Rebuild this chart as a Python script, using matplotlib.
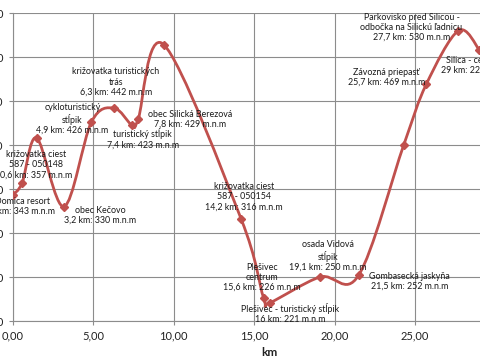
import numpy as np
import matplotlib
matplotlib.use("Agg")
from matplotlib import pyplot as plt
from matplotlib.path import Path
from matplotlib.patches import PathPatch
from matplotlib.ticker import MultipleLocator, FuncFormatter

# route profile: distance (km) and elevation (m n.m.)
km = [0.0, 0.6, 1.5, 3.2, 4.9, 6.3, 7.4, 7.8, 9.4, 14.2, 15.6, 16.0,
      19.1, 21.5, 24.3, 25.7, 27.7, 29.0]
elev = [343, 357, 408, 330, 426, 442, 423, 429, 514, 316, 226, 221,
        250, 252, 400, 469, 530, 508]

# data labels (None = point without label)
labels = [
    "Domica resort\n0 km: 343 m.n.m",
    "križovatka ciest\n587 - 050148\n0,6 km: 357 m.n.m",
    None,
    "obec Kečovo\n3,2 km: 330 m.n.m",
    "cykloturistický\nstĺpik\n4,9 km: 426 m.n.m",
    "križovatka turistických\ntrás\n6,3 km: 442 m.n.m",
    "turistický stĺpik\n7,4 km: 423 m.n.m",
    "obec Silická Berezová\n7,8 km: 429 m.n.m",
    None,
    "križovatka ciest\n587 - 050154\n14,2 km: 316 m.n.m",
    "Plešivec\ncentrum\n15,6 km: 226 m.n.m",
    "Plešivec - turistický stĺpik\n16 km: 221 m.n.m",
    "osada Vidová\nstĺpik\n19,1 km: 250 m.n.m",
    "Gombasecká jaskyňa\n21,5 km: 252 m.n.m",
    None,
    "Závozná priepasť\n25,7 km: 469 m.n.m",
    "Parkovisko pred Silicou -\nodbočka na Silickú ľadnicu\n27,7 km: 530 m.n.m",
    "Silica - centrum\n29 km: 224 m.n.m",
]
# label offsets in pixels (x right, y up)
offsets = [(10, -11), (14, 18), None, (36, -9), (-19, 3), (2, 26), (11, -14),
           (52, 0), None, (3, 22), (-2, 21), (20, -11), (8, 21), (51, -6),
           None, (-40, 7), (-47, 3), (-3, -16)]

red = "#C0504D"
grid = "#8c8c8c"
font = ["Lato", "DejaVu Sans"]

fig = plt.figure(figsize=(4.8, 3.6), dpi=100)
ax = fig.add_axes([12.5 / 480, 39 / 360, 483 / 480, 308 / 360])
ax.set_xlim(0, 30)
ax.set_ylim(200, 550)

# smoothed line like Excel (Catmull-Rom as cubic Bezier)
P = np.column_stack([km, elev]).astype(float)
verts = [P[0]]
codes = [Path.MOVETO]
n = len(P)
for i in range(n - 1):
    p0 = P[max(i - 1, 0)]
    p1, p2 = P[i], P[i + 1]
    p3 = P[min(i + 2, n - 1)]
    verts += [p1 + (p2 - p0) / 6, p2 - (p3 - p1) / 6, p2]
    codes += [Path.CURVE4] * 3
ax.add_patch(PathPatch(Path(verts, codes), fill=False, edgecolor=red,
                       lw=2.0, capstyle="round", joinstyle="round", zorder=3))
ax.plot(km, elev, "D", color=red, markersize=4.5, zorder=4)

for x, y, t, off in zip(km, elev, labels, offsets):
    if t is None:
        continue
    ax.annotate(t, (x, y), xytext=off, textcoords="offset pixels",
                ha="center", va="center", fontsize=6.4, family=font,
                color="#1a1a1a", linespacing=1.15, zorder=5)

ax.xaxis.set_major_locator(MultipleLocator(5))
ax.yaxis.set_major_locator(MultipleLocator(50))
ax.xaxis.set_major_formatter(FuncFormatter(lambda v, p: f"{v:.2f}".replace(".", ",")))
ax.yaxis.set_major_formatter(FuncFormatter(lambda v, p: f"{v:.0f}"))
ax.grid(True, color=grid, lw=0.8)
ax.set_axisbelow(True)
for s in ["top", "right"]:
    ax.spines[s].set_visible(False)
for s in ["left", "bottom"]:
    ax.spines[s].set_color(grid)
    ax.spines[s].set_linewidth(0.8)
ax.tick_params(colors=grid, length=3, width=0.8, labelcolor="#222222",
               labelsize=8)
for t in ax.get_xticklabels() + ax.get_yticklabels():
    t.set_family(font)
ax.set_xlabel("km", fontsize=8.5, fontweight="bold", family=font,
              labelpad=1, color="#222222")
ax.xaxis.set_label_coords(257 / 483 * 30 / 30 - 0.0, -0.085)

fig.savefig("out.png", dpi=100)
